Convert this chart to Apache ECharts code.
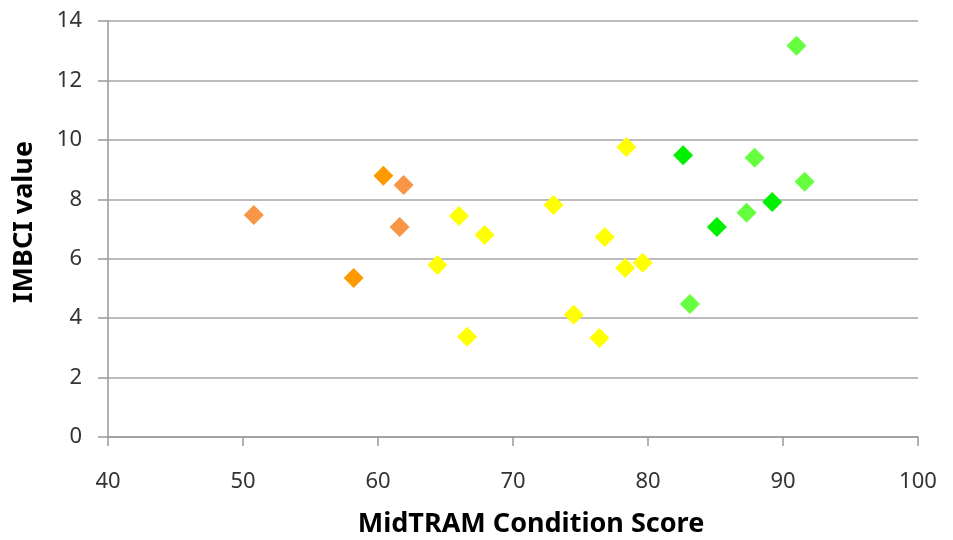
<!DOCTYPE html>
<html>
<head>
<meta charset="utf-8">
<script src="https://cdn.jsdelivr.net/npm/echarts@6/dist/echarts.min.js"></script>
<style>html,body{margin:0;padding:0;background:#fff}#c{width:953px;height:540px}</style>
</head>
<body>
<div id="c"></div>
<script>
var xTicks = [40, 50, 60, 70, 80, 90, 100];
var yTicks = [0, 2, 4, 6, 8, 10, 12, 14];
var lightOrange = [[50.8, 7.47], [61.9, 8.48], [61.6, 7.07]];
var darkOrange = [[60.4, 8.79], [58.2, 5.35]];
var yellow = [[64.4, 5.79], [66.0, 7.44], [67.9, 6.80], [66.6, 3.37], [73.0, 7.81], [74.5, 4.11],
  [76.4, 3.33], [76.8, 6.73], [78.3, 5.69], [79.6, 5.86], [78.4, 9.76]];
var brightGreen = [[82.6, 9.48], [85.1, 7.07], [89.2, 7.91]];
var lightGreen = [[91.0, 13.17], [87.9, 9.40], [91.6, 8.59], [87.3, 7.55], [83.1, 4.48]];

var font = 'Noto Sans';
function s(data, color) {
  return { type: 'scatter', data: data, symbol: 'diamond', symbolSize: 20,
    itemStyle: { color: color, opacity: 1 }, emphasis: { disabled: true } };
}
var chart = echarts.init(document.getElementById('c'), null, { renderer: 'canvas' });
chart.setOption({
  animation: false,
  backgroundColor: '#fff',
  grid: { left: 108, right: 35, top: 21, bottom: 103, containLabel: false, outerBoundsMode: 'none' },
  xAxis: {
    type: 'value', min: xTicks[0], max: xTicks[xTicks.length - 1], interval: 10,
    name: 'MidTRAM Condition Score', nameLocation: 'middle', nameGap: 74,
    nameTextStyle: { fontFamily: font, fontSize: 27, fontWeight: 'bold', color: '#000', padding: [0, 0, 0, 36] },
    axisLine: { show: true, lineStyle: { color: '#999', width: 1.5 } },
    axisTick: { show: true, inside: false, length: 9, lineStyle: { color: '#999', width: 1.5 } },
    axisLabel: { fontFamily: font, fontSize: 22, color: '#333', margin: 34 },
    splitLine: { show: false }
  },
  yAxis: {
    type: 'value', min: yTicks[0], max: yTicks[yTicks.length - 1], interval: 2,
    name: 'IMBCI value', nameLocation: 'middle', nameGap: 70, nameRotate: 90,
    nameTextStyle: { fontFamily: font, fontSize: 27, fontWeight: 'bold', color: '#000', padding: [0, 0, 0, 14] },
    axisLine: { show: true, lineStyle: { color: '#999', width: 1.5 } },
    axisTick: { show: true, inside: false, length: 10, lineStyle: { color: '#999', width: 1.5 } },
    axisLabel: { fontFamily: font, fontSize: 22, color: '#333', margin: 26 },
    splitLine: { show: true, lineStyle: { color: '#a6a6a6', width: 1.5 } }
  },
  series: [
    s(lightOrange, '#F79646'),
    s(darkOrange, '#FF9900'),
    s(yellow, '#FFFF00'),
    s(brightGreen, '#00F000'),
    s(lightGreen, '#66FF3F')
  ]
});
</script>
</body>
</html>
